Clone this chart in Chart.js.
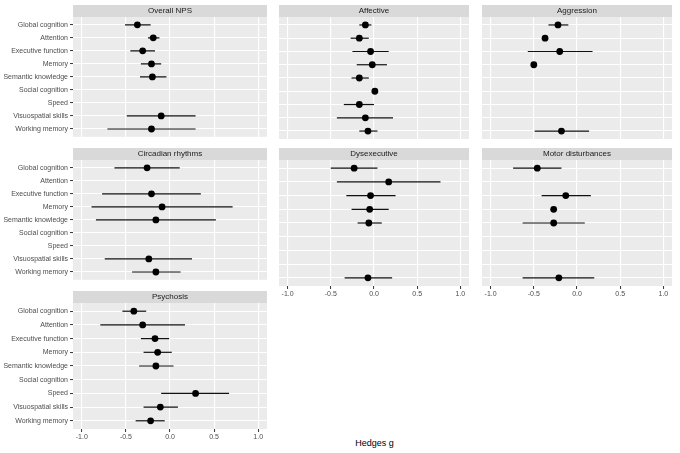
<!DOCTYPE html>
<html>
<head>
<meta charset="utf-8">
<script src="https://cdn.jsdelivr.net/npm/chart.js@4.4.1/dist/chart.umd.min.js"></script>
<style>
  body { margin: 0; background: #fff; width: 680px; height: 453px; position: relative; overflow: hidden;
         font-family: "Liberation Sans", Arial, sans-serif; }
  canvas { position: absolute; }
  #xtitle { position: absolute; left: 0; width: 749px; top: 438px; text-align: center; font-size: 9px; color: #000; }
</style>
</head>
<body>
<div id="xtitle">Hedges g</div>
<script>
const categories = ['Global cognition', 'Attention', 'Executive function', 'Memory', 'Semantic knowledge',
                    'Social cognition', 'Speed', 'Visuospatial skills', 'Working memory'];
const xTicks = [-1, -0.5, 0, 0.5, 1];

// estimate / lower / upper per panel, same order as categories (null = no estimate)
const npsEst = [-0.37, -0.19, -0.31, -0.21, -0.20, null, null, -0.10, -0.21];
const npsLo  = [-0.51, -0.25, -0.45, -0.33, -0.34, null, null, -0.49, -0.71];
const npsHi  = [-0.22, -0.12, -0.17, -0.10, -0.04, null, null,  0.29,  0.29];

const affEst = [-0.10, -0.17, -0.04, -0.02, -0.17, 0.01, -0.17, -0.10, -0.07];
const affLo  = [-0.17, -0.27, -0.25, -0.20, -0.26, null, -0.35, -0.43, -0.17];
const affHi  = [-0.03, -0.06,  0.17,  0.15, -0.06, null,  0.00,  0.22,  0.04];

const aggEst = [-0.22, -0.37, -0.20, -0.50, null, null, null, null, -0.18];
const aggLo  = [-0.33,  null, -0.57,  null, null, null, null, null, -0.49];
const aggHi  = [-0.10,  null,  0.18,  null, null, null, null, null,  0.14];

const circEst = [-0.26, null, -0.21, -0.09, -0.16, null, null, -0.24, -0.16];
const circLo  = [-0.63, null, -0.77, -0.89, -0.84, null, null, -0.74, -0.43];
const circHi  = [ 0.11, null,  0.35,  0.71,  0.52, null, null,  0.25,  0.12];

const dysEst = [-0.23, 0.17, -0.04, -0.05, -0.06, null, null, null, -0.07];
const dysLo  = [-0.50, -0.43, -0.32, -0.26, -0.19, null, null, null, -0.34];
const dysHi  = [ 0.04,  0.77,  0.25,  0.17,  0.09, null, null, null,  0.21];

const motEst = [-0.46, null, -0.13, -0.27, -0.27, null, null, null, -0.21];
const motLo  = [-0.74, null, -0.41,  null, -0.63, null, null, null, -0.63];
const motHi  = [-0.18, null,  0.16,  null,  0.09, null, null, null,  0.20];

const psyEst = [-0.41, -0.31, -0.17, -0.14, -0.16, null,  0.29, -0.11, -0.22];
const psyLo  = [-0.54, -0.79, -0.33, -0.30, -0.35, null, -0.10, -0.30, -0.39];
const psyHi  = [-0.27,  0.17, -0.01,  0.02,  0.04, null,  0.67,  0.09, -0.06];

const panels = [
  { title: 'Overall NPS', est: npsEst, lo: npsLo, hi: npsHi, col: 0, row: 0, xAxis: false },
  { title: 'Affective', est: affEst, lo: affLo, hi: affHi, col: 1, row: 0, xAxis: false },
  { title: 'Aggression', est: aggEst, lo: aggLo, hi: aggHi, col: 2, row: 0, xAxis: false },
  { title: 'Circadian rhythms', est: circEst, lo: circLo, hi: circHi, col: 0, row: 1, xAxis: false },
  { title: 'Dysexecutive', est: dysEst, lo: dysLo, hi: dysHi, col: 1, row: 1, xAxis: true },
  { title: 'Motor disturbances', est: motEst, lo: motLo, hi: motHi, col: 2, row: 1, xAxis: true },
  { title: 'Psychosis', est: psyEst, lo: psyLo, hi: psyHi, col: 0, row: 2, xAxis: true }
];

const colLeft = [0, 275, 478];
const colWidth = [271, 198, 198];
const yAxisWidth = [73, 0, 0];
const rowTop = [5, 148, 291];
const STRIP = 12, PANEL_H = 126, XAXIS_H = 16;
const FONT = '"Liberation Sans", Arial, sans-serif';

// grey panel + facet strip, drawn under the grid
const panelBg = {
  id: 'panelBg',
  beforeDraw(chart, args, opts) {
    const { ctx, chartArea: a } = chart;
    ctx.save();
    ctx.fillStyle = '#EBEBEB';
    ctx.fillRect(a.left, a.top, a.right - a.left, a.bottom - a.top);
    ctx.fillStyle = '#D9D9D9';
    ctx.fillRect(a.left, a.top - STRIP, a.right - a.left, STRIP);
    ctx.fillStyle = '#1A1A1A';
    ctx.font = '8px ' + FONT;
    ctx.textAlign = 'center';
    ctx.textBaseline = 'middle';
    ctx.fillText(opts.title, (a.left + a.right) / 2, a.top - STRIP / 2);
    ctx.restore();
  }
};

panels.forEach(p => {
  const canvas = document.createElement('canvas');
  const h = STRIP + PANEL_H + (p.xAxis ? XAXIS_H : 0);
  canvas.width = colWidth[p.col];
  canvas.height = h;
  canvas.style.left = colLeft[p.col] + 'px';
  canvas.style.top = rowTop[p.row] + 'px';
  canvas.style.width = colWidth[p.col] + 'px';
  canvas.style.height = h + 'px';
  document.body.appendChild(canvas);

  const points = p.est.map((v, i) => ({ x: v, y: i })).filter(d => d.x !== null);
  const datasets = [{
    data: points,
    pointRadius: 3.4,
    pointBackgroundColor: '#000',
    pointBorderWidth: 0,
    showLine: false
  }];
  p.lo.forEach((lo, i) => {
    if (lo === null) return;
    datasets.push({
      data: [{ x: lo, y: i }, { x: p.hi[i], y: i }],
      showLine: true,
      borderColor: '#111',
      borderWidth: 1.2,
      pointRadius: 0
    });
  });

  const showY = p.col === 0;
  new Chart(canvas, {
    type: 'scatter',
    data: { datasets },
    plugins: [panelBg],
    options: {
      responsive: false,
      animation: false,
      events: [],
      devicePixelRatio: 1,
      layout: { padding: { top: STRIP, left: 0, right: 0, bottom: 0 } },
      plugins: {
        legend: { display: false },
        tooltip: { enabled: false },
        panelBg: { title: p.title }
      },
      scales: {
        x: {
          type: 'linear',
          min: -1.1,
          max: 1.1,
          afterBuildTicks: s => { s.ticks = xTicks.map(v => ({ value: v })); },
          afterFit: s => { s.height = p.xAxis ? XAXIS_H : 0; },
          border: { display: false },
          grid: {
            color: '#FFFFFF',
            lineWidth: 1.1,
            drawTicks: p.xAxis,
            tickColor: '#333333',
            tickLength: 3,
            tickWidth: 1
          },
          ticks: {
            display: p.xAxis,
            autoSkip: false,
            maxRotation: 0,
            padding: 1,
            color: '#4D4D4D',
            font: { family: FONT, size: 7 },
            callback: v => v.toFixed(1)
          }
        },
        y: {
          type: 'linear',
          reverse: true,
          min: -0.6,
          max: 8.6,
          afterBuildTicks: s => { s.ticks = categories.map((c, i) => ({ value: i })); },
          afterFit: s => { s.width = yAxisWidth[p.col]; },
          border: { display: false },
          grid: {
            color: '#FFFFFF',
            lineWidth: 1.1,
            drawTicks: showY,
            tickColor: '#333333',
            tickLength: 3,
            tickWidth: 1
          },
          ticks: {
            display: showY,
            autoSkip: false,
            padding: 2,
            color: '#4D4D4D',
            font: { family: FONT, size: 7 },
            callback: (v, i) => categories[i]
          }
        }
      }
    }
  });
});
</script>
</body>
</html>
